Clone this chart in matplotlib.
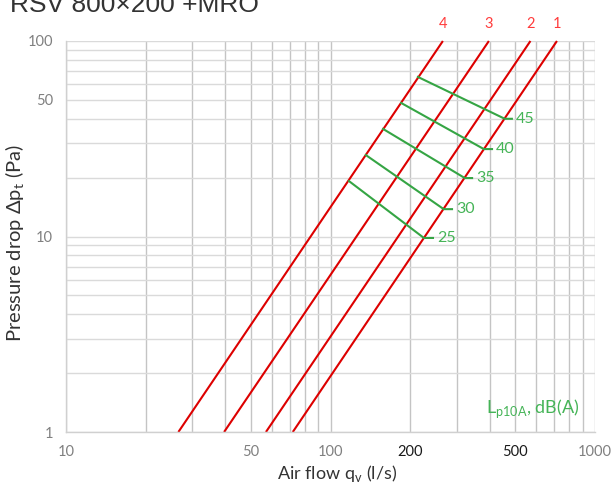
import matplotlib
matplotlib.use("Agg")
import matplotlib.pyplot as plt
from matplotlib.ticker import LogLocator, NullFormatter

# ---- data ----
curve_names = ["1", "2", "3", "4"]
flow_at_1pa = [72.0, 57.0, 39.6, 26.6]      # l/s where each curve crosses 1 Pa
flow_at_100pa = [718.0, 570.0, 397.0, 266.0]  # l/s where each curve crosses 100 Pa
dp_low = [1.0, 1.0, 1.0, 1.0]
dp_high = [100.0, 100.0, 100.0, 100.0]

sound_levels = ["25", "30", "35", "40", "45"]
snd_q_start = [117.5, 136.0, 158.0, 185.0, 214.0]   # on curve 4
snd_dp_start = [19.2, 26.1, 35.5, 48.2, 65.5]
snd_q_end = [225.5, 268.0, 322.0, 380.0, 456.0]     # on curve 1
snd_dp_end = [9.83, 13.8, 19.9, 28.0, 40.0]
snd_q_tick = [244.0, 288.0, 343.0, 408.0, 485.0]

x_ticks = [10, 50, 100, 200, 500, 1000]
x_tick_labels = ["10", "50", "100", "200", "500", "1000"]
x_tick_colors = ["#808080", "#808080", "#808080", "#1a1a1a", "#1a1a1a", "#808080"]
y_ticks = [1, 10, 50, 100]
y_tick_labels = ["1", "10", "50", "100"]

RED = "#dd0000"
RED_TXT = "#ff3b3b"
GREEN = "#35a544"
GREEN_TXT = "#45b457"
FONT = ["Lato", "DejaVu Sans"]

fig = plt.figure(figsize=(6.14, 4.84), dpi=100)
ax = fig.add_axes([66/614, 1-432/484, (595-66)/614, (432-41)/484])
ax.set_xscale("log")
ax.set_yscale("log")
ax.set_xlim(10, 1000)
ax.set_ylim(1, 100)

# grid
ax.xaxis.set_minor_locator(LogLocator(base=10, subs=range(1, 10)))
ax.yaxis.set_minor_locator(LogLocator(base=10, subs=range(1, 10)))
ax.xaxis.set_minor_formatter(NullFormatter())
ax.yaxis.set_minor_formatter(NullFormatter())
ax.xaxis.grid(True, which="both", color="#c4c4c4", linewidth=1.0)
ax.yaxis.grid(True, which="both", color="#dadada", linewidth=1.0)
ax.set_axisbelow(True)
for s in ["top", "right"]:
    ax.spines[s].set_visible(False)
for s in ["left", "bottom"]:
    ax.spines[s].set_color("#d0d0d0")
    ax.spines[s].set_linewidth(1.0)

ax.tick_params(which="both", length=0)
ax.set_xticks(x_ticks)
ax.set_xticklabels(x_tick_labels, fontsize=10.5, family=FONT)
for lbl, c in zip(ax.get_xticklabels(), x_tick_colors):
    lbl.set_color(c)
ax.set_yticks(y_ticks)
ax.set_yticklabels(y_tick_labels, fontsize=10.5, family=FONT, color="#808080")
ax.tick_params(axis="x", pad=9.5)
ax.tick_params(axis="y", pad=9.5)

# red curves
for name, q1, q2, d1, d2 in zip(curve_names, flow_at_1pa, flow_at_100pa, dp_low, dp_high):
    ax.plot([q1, q2], [d1, d2], color=RED, linewidth=1.5, solid_capstyle="butt", clip_on=False)
    ax.annotate(name, xy=(q2, d2), xytext=(0, 17), textcoords="offset pixels",
                ha="center", va="center", color=RED_TXT, fontsize=10.5, family=FONT,
                annotation_clip=False)

# green sound-level lines
for lab, qa, da, qb, db, qt in zip(sound_levels, snd_q_start, snd_dp_start,
                                   snd_q_end, snd_dp_end, snd_q_tick):
    ax.plot([qa, qb, qt], [da, db, db], color=GREEN, linewidth=1.5)
    ax.annotate(lab, xy=(qt, db), xytext=(4, 0), textcoords="offset pixels",
                ha="left", va="center", color=GREEN_TXT, fontsize=11.5, family=FONT)

ax.text((580-66)/529, (432-413)/391, r"L$_{\mathregular{p10A}}$, dB(A)", transform=ax.transAxes,
        ha="right", va="baseline", color=GREEN_TXT, fontsize=13, family=FONT)

ax.set_xlabel(r"Air flow q$_{\mathregular{v}}$ (l/s)", fontsize=13, family=FONT,
              color="#333333", labelpad=3)
ax.xaxis.label.set_x((337.5-66)/529)
ax.set_ylabel("Pressure drop Δp$_{\\mathregular{t}}$ (Pa)", fontsize=14.5,
              family=FONT, color="#333333", labelpad=0)
ax.yaxis.label.set_y((432-243)/391)

fig.text(10/614, 1-12/484, "RSV 800×200 +MRO", fontsize=19, family="Liberation Sans",
         color="#333333", ha="left", va="baseline")

fig.savefig("out.png", dpi=100)
